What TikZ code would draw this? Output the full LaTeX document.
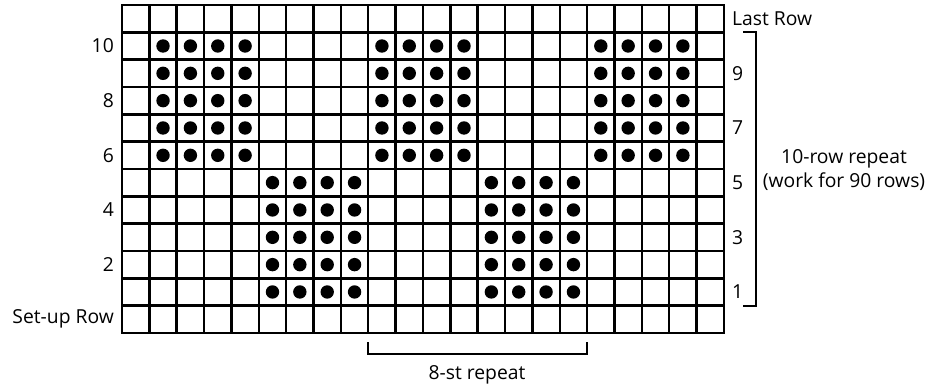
\documentclass[tikz,border=0pt]{standalone}
\usepackage{fontspec}
\setmainfont{Open Sans}
\begin{document}
\begin{tikzpicture}[x=1pt,y=-1pt,
  lbl/.style={font=\fontsize{19.3}{24}\selectfont, inner sep=0pt},
  gridline/.style={line width=2.5pt, line cap=rect},
  brk/.style={line width=2pt},
  stdot/.style={fill=black}]
\useasboundingbox (0,0) rectangle (928,390);
\def\gx{122}\def\gy{5}\def\cw{27.36}\def\rh{27.33}
% grid
\foreach \i in {0,...,22}
  \draw[gridline] ({\gx+\i*\cw},\gy) -- ({\gx+\i*\cw},{\gy+12*\rh});
\foreach \j in {0,...,12}
  \draw[gridline] (\gx,{\gy+\j*\rh}) -- ({\gx+22*\cw},{\gy+\j*\rh});
% dots rows 6-10
\foreach \k in {6,...,10}
  \foreach \c in {1,2,3,4,9,10,11,12,17,18,19,20}
    \fill[stdot] ({\gx+(\c+0.5)*\cw},{\gy+(11-\k+0.5)*\rh}) circle (6.7);
% dots rows 1-5
\foreach \k in {1,...,5}
  \foreach \c in {5,6,7,8,13,14,15,16}
    \fill[stdot] ({\gx+(\c+0.5)*\cw},{\gy+(11-\k+0.5)*\rh}) circle (6.7);
% left labels
\foreach \k in {10,8,6,4,2}
  \node[lbl, anchor=east] (l\k) at (114,{\gy+(11-\k+0.5)*\rh}) {\k};
\node[lbl, anchor=east] (setup) at (114,{\gy+11.5*\rh}) {Set-up Row};
% right labels
\node[lbl, anchor=west] (last) at (732,{\gy+0.5*\rh}) {Last Row};
\foreach \k in {9,7,5,3,1}
  \node[lbl, anchor=west] (r\k) at (732,{\gy+(11-\k+0.5)*\rh}) {\k};
% right bracket
\coordinate (rbt) at (743,{\gy+\rh});
\coordinate (rbb) at (743,{\gy+11*\rh});
\draw[brk] (rbt) -- ++(13,0) |- (rbb);
\node[lbl, align=center] (rep10) at (844,170) {10-row repeat\\(work for 90 rows)};
% bottom bracket
\coordinate (bbl) at ({\gx+9*\cw},342);
\coordinate (bbr) at ({\gx+17*\cw},342);
\draw[brk] (bbl) -- ++(0,12) -| (bbr);
\node[lbl] (rep8) at (477,375) {8-st repeat};
\end{tikzpicture}
\end{document}
